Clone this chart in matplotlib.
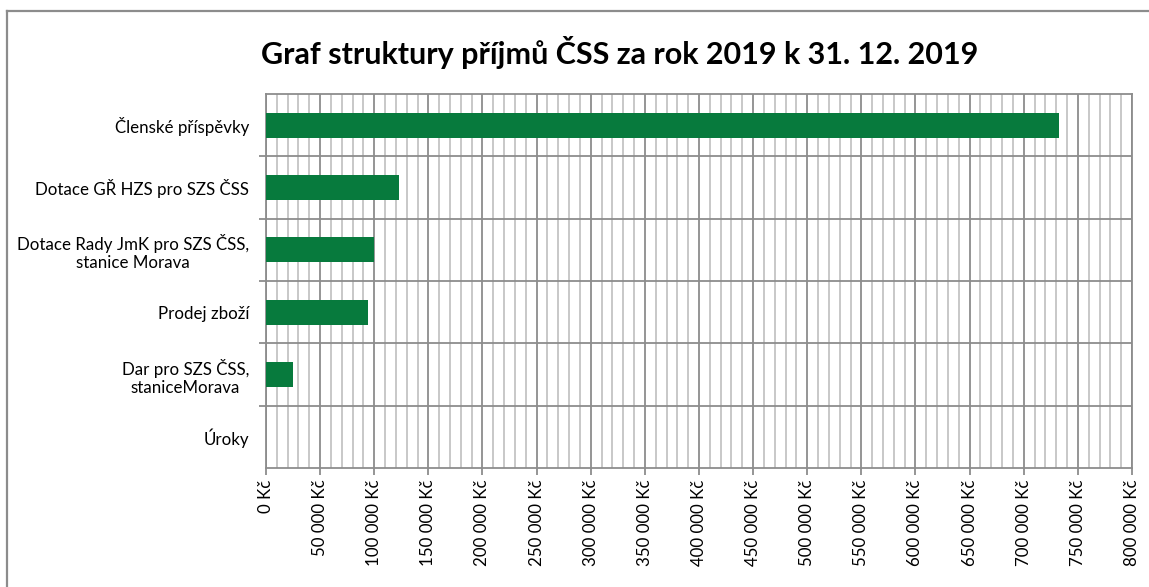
import matplotlib.pyplot as plt
from matplotlib.lines import Line2D
from matplotlib.ticker import MultipleLocator, FuncFormatter

# data
categories = [
    "Členské příspěvky",
    "Dotace GŘ HZS pro SZS ČSS",
    "Dotace Rady JmK pro SZS ČSS,\nstanice Morava",
    "Prodej zboží",
    "Dar pro SZS ČSS,\nstaniceMorava",
    "Úroky",
]
values = [732800, 123300, 100100, 94600, 24600, 0]

TITLE = "Graf struktury příjmů ČSS za rok 2019 k 31. 12. 2019"
BAR_COLOR = "#077a3d"
MAJOR_GRID = "#8c8c8c"
MINOR_GRID = "#c4c4c4"

plt.rcParams["font.family"] = ["Lato", "DejaVu Sans"]

fig = plt.figure(figsize=(11.49, 5.87), dpi=100)
ax = fig.add_axes([0.2315, 0.2027, 0.9852 - 0.2315, 0.8399 - 0.2027])

pos = list(range(len(categories)))
ax.barh(pos, values, height=0.4, color=BAR_COLOR, zorder=3)

ax.set_xlim(0, 800000)
ax.set_ylim(len(categories) - 0.5, -0.5)

ax.xaxis.set_major_locator(MultipleLocator(50000))
ax.xaxis.set_minor_locator(MultipleLocator(10000))
ax.xaxis.set_major_formatter(FuncFormatter(lambda v, p: f"{int(v):,} Kč".replace(",", " ")))
ax.grid(which="major", axis="x", color=MAJOR_GRID, lw=1.3, zorder=1)
ax.grid(which="minor", axis="x", color=MINOR_GRID, lw=1.3, zorder=0)

# category boundaries
ax.set_yticks([p + 0.5 for p in pos[:-1]], minor=True)
ax.grid(which="minor", axis="y", color=MAJOR_GRID, lw=1.3, zorder=1)
ax.set_yticks(pos)
ax.set_yticklabels(categories, fontsize=12.2, multialignment="center")
ax.tick_params(axis="y", which="major", length=0, pad=12)
ax.tick_params(axis="y", which="minor", length=5, color=MAJOR_GRID, width=1.3)
ax.tick_params(axis="x", which="major", length=5, color=MAJOR_GRID, width=1.3,
               labelsize=12.2, labelrotation=90, pad=3)
ax.tick_params(axis="x", which="minor", length=0)

for s in ax.spines.values():
    s.set_color(MAJOR_GRID)
    s.set_linewidth(1.3)

fig.text(0.5396, 0.911, TITLE, ha="center", va="center",
         fontsize=22, fontweight="bold")

# chart frame (cropped at right and bottom)
fx = 7 / 1149
fy = 1 - 11 / 587
fig.add_artist(Line2D([fx, fx], [0, fy], color="#8c8c8c", lw=1.6, transform=fig.transFigure))
fig.add_artist(Line2D([fx, 1], [fy, fy], color="#8c8c8c", lw=1.6, transform=fig.transFigure))

fig.savefig("out.png", dpi=100)
